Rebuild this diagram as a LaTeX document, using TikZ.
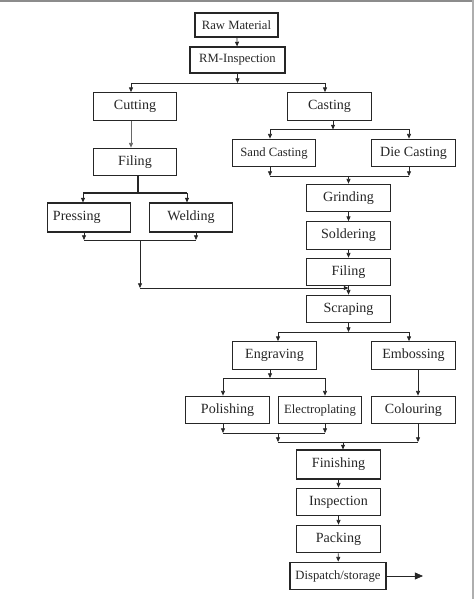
\documentclass[tikz,border=0pt]{standalone}
\usepackage{fontspec}
\setmainfont{Liberation Serif}
\usepackage{xcolor}
\usepackage{tikz}
\usetikzlibrary{arrows.meta}
\definecolor{ink}{HTML}{262626}
\definecolor{frame}{HTML}{8C8C8C}
\tikzset{
  box/.style={draw=ink, line width=0.9pt, inner sep=0pt, minimum width=2.5cm, minimum height=0.83cm, font=\fontsize{12}{14}\selectfont, text=ink},
  boxs/.style={box, font=\fontsize{10.8}{13}\selectfont},
  ln/.style={draw=ink, line width=0.65pt},
  arr/.style={ln, -{Triangle[length=4pt, width=3.4pt]}},
  bigarr/.style={ln, -{Triangle[length=7pt, width=6pt]}},
}

\begin{document}
\begin{tikzpicture}[x=0.03cm, y=-0.03cm]
  \useasboundingbox (0,0) rectangle (474,599);
  \fill[frame] (0,0) rectangle (474,2);
  \fill[frame!70] (472,0) rectangle (474,599);

  \node[boxs, minimum width=2.49cm, minimum height=0.72cm] (raw) at (236.5,25) {Raw Material};
  \node[boxs, minimum width=2.85cm, minimum height=0.78cm] (rmi) at (237.5,60) {RM-Inspection};
  \node[box] (cut) at (135,106.5) {Cutting};
  \node[box] (cast) at (329.5,106.5) {Casting};
  \node[box] (fil1) at (135,162) {Filing};
  \node[boxs] (sand) at (274,153) {Sand Casting};
  \node[box] (die) at (413.5,153) {Die Casting};
  \node[box, minimum height=0.87cm, text width=2.16cm, align=left] (press) at (89,217.5) {Pressing};
  \node[box, minimum height=0.87cm] (weld) at (191,217.5) {Welding};
  \node[box] (grind) at (348.5,198) {Grinding};
  \node[box] (sold) at (348.5,235.5) {Soldering};
  \node[box] (fil2) at (348.5,272) {Filing};
  \node[box] (scrap) at (348.5,309) {Scraping};
  \node[box] (engr) at (274.5,355.5) {Engraving};
  \node[box] (emb) at (413.5,355.5) {Embossing};
  \node[box] (pol) at (227.5,410) {Polishing};
  \node[boxs] (elec) at (320,410) {Electroplating};
  \node[box] (col) at (413.5,410) {Colouring};
  \node[box, minimum height=0.87cm] (fin) at (338.5,464.5) {Finishing};
  \node[box] (insp) at (338.5,502) {Inspection};
  \node[box] (pack) at (338.5,539) {Packing};
  \node[boxs, minimum width=2.88cm] (disp) at (338,576) {Dispatch/storage};

  \coordinate (b1l) at (131,83);
  \coordinate (b1r) at (325,83);
  \coordinate (b2l) at (270,129.5);
  \coordinate (b2r) at (409,129.5);
  \coordinate (b3l) at (83,193);
  \coordinate (b3r) at (187,193);
  \coordinate (m1l) at (270,176);
  \coordinate (m1r) at (409,176);
  \coordinate (m2l) at (84,240);
  \coordinate (m2r) at (196,240);
  \coordinate (m2d) at (140,288);
  \coordinate (b4l) at (278,332);
  \coordinate (b4r) at (409,332);
  \coordinate (b5l) at (223,378);
  \coordinate (b5r) at (325,378);
  \coordinate (m3l) at (223,433);
  \coordinate (m3r) at (325,433);
  \coordinate (m4l) at (278,442);
  \coordinate (m4r) at (418,442);
  \coordinate (out) at (423,576);

  \draw[arr] (raw) -- (rmi);
  \draw[arr] (rmi.south) -- (rmi.south |- b1l);
  \draw[ln] (b1l) -- (b1r);
  \draw[arr] (b1l) -- (b1l |- cut.north);
  \draw[arr] (b1r) -- (b1r |- cast.north);
  \draw[ln, draw=ink!70] (cut.south -| b1l) edge[arr, draw=ink!70] (fil1.north -| b1l);
  \draw[ln, line width=1pt] (fil1.south -| 138,0) -- (138,193);
  \draw[ln, line width=1pt] (b3l) -- (b3r);
  \draw[arr] (b3l) -- (b3l |- press.north);
  \draw[arr] (b3r) -- (b3r |- weld.north);
  \draw[arr] (cast.south -| 333,0) -- (333,129.5);
  \draw[ln, line width=0.9pt] (b2l) -- (b2r);
  \draw[arr] (b2l) -- (b2l |- sand.north);
  \draw[arr] (b2r) -- (b2r |- die.north);
  \draw[arr] (sand.south -| m1l) -- (m1l);
  \draw[arr] (die.south -| m1r) -- (m1r);
  \draw[ln] (m1l) -- (m1r);
  \draw[arr] (m1l -| grind) -- (grind.north);
  \draw[arr] (press.south -| m2l) -- (m2l);
  \draw[arr] (weld.south -| m2r) -- (m2r);
  \draw[ln] (m2l) -- (m2r);
  \draw[arr] (m2l -| m2d) -- (m2d);
  \draw[arr] (m2d) -- (m2d -| scrap.north);
  \draw[arr] (grind) -- (sold);
  \draw[arr] (sold) -- (fil2);
  \draw[arr] (fil2) -- (scrap);
  \draw[arr] (scrap.south) -- (scrap.south |- b4l);
  \draw[ln] (b4l) -- (b4r);
  \draw[arr] (b4l) -- (b4l |- engr.north);
  \draw[arr] (b4r) -- (b4r |- emb.north);
  \draw[arr] (engr.south -| 270,0) -- (270,378);
  \draw[ln] (b5l) -- (b5r);
  \draw[arr] (b5l) -- (b5l |- pol.north);
  \draw[arr] (b5r) -- (b5r |- elec.north);
  \draw[arr] (emb.south -| m4r) -- (col.north -| m4r);
  \draw[arr] (pol.south -| m3l) -- (m3l);
  \draw[arr] (elec.south -| m3r) -- (m3r);
  \draw[ln] (m3l) -- (m3r);
  \draw[arr] (m3l -| m4l) -- (m4l);
  \draw[ln] (m4l) -- (m4r);
  \draw[arr] (col.south -| m4r) -- (m4r);
  \draw[arr] (m4l -| 343,0) -- (fin.north -| 343,0);
  \draw[arr] (fin) -- (insp);
  \draw[arr] (insp) -- (pack);
  \draw[arr] (pack) -- (disp);
  \draw[bigarr] (disp.east) -- (out);
\end{tikzpicture}
\end{document}
